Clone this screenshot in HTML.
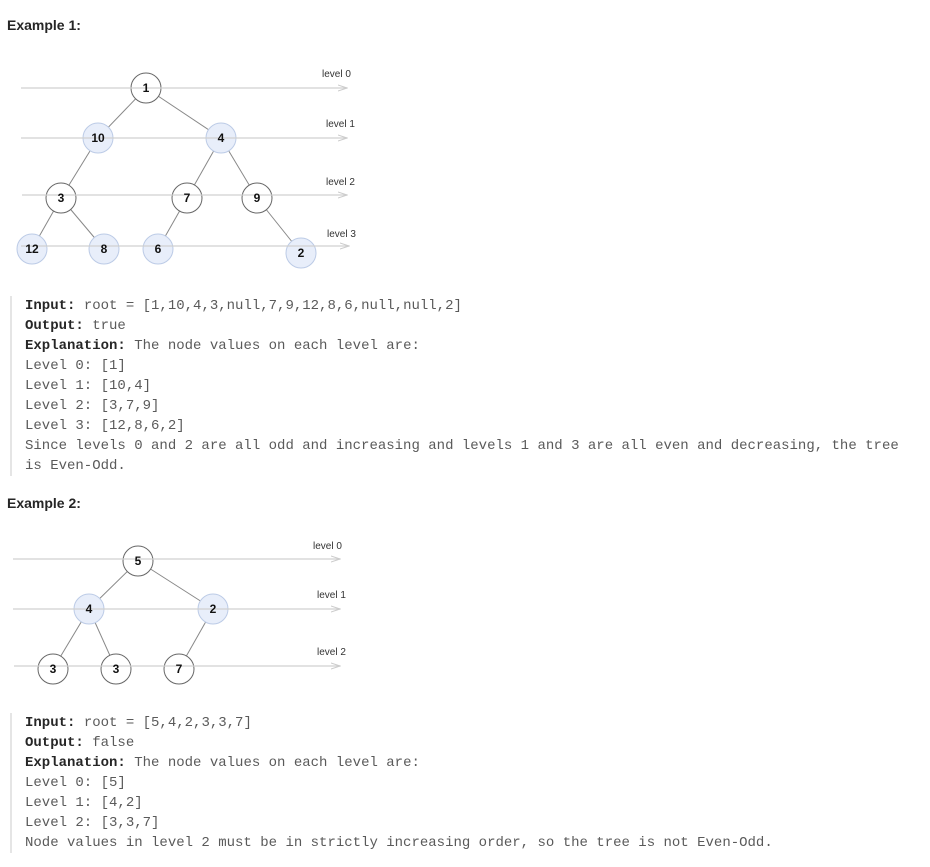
<!DOCTYPE html>
<html><head><meta charset="utf-8"><style>
body{margin:0;width:930px;height:867px;background:#fff;position:relative;font-family:"Liberation Sans",sans-serif;}
.h{position:absolute;left:7px;font-weight:bold;font-size:14px;color:#262626;}
pre{position:absolute;left:10px;margin:0;padding:0 0 0 13px;border-left:2px solid #e5e5e5;font-family:"Liberation Mono",monospace;font-size:14px;line-height:20px;color:#5a5a5a;white-space:pre;}
pre b{color:#262626;font-weight:bold;}
svg{position:absolute;left:0;top:0;}
</style></head><body>
<div class="h" style="top:17px">Example 1:</div>
<svg width="930" height="867" font-family="Liberation Sans, sans-serif">
<defs><marker id="a" markerWidth="10" markerHeight="8" refX="9" refY="4" orient="auto" markerUnits="userSpaceOnUse"><path d="M0,1 L9,4 L0,7" fill="none" stroke="#ccc"/></marker></defs>
<g stroke="#888" stroke-width="1">
<line x1="146" y1="88" x2="98" y2="138"/><line x1="146" y1="88" x2="221" y2="138"/>
<line x1="98" y1="138" x2="61" y2="198"/><line x1="221" y1="138" x2="187" y2="198"/><line x1="221" y1="138" x2="257" y2="198"/>
<line x1="61" y1="198" x2="32" y2="249"/><line x1="61" y1="198" x2="104" y2="249"/><line x1="187" y1="198" x2="158" y2="249"/><line x1="257" y1="198" x2="301" y2="253"/>
<line x1="138" y1="561" x2="89" y2="609"/><line x1="138" y1="561" x2="213" y2="609"/>
<line x1="89" y1="609" x2="53" y2="669"/><line x1="89" y1="609" x2="116" y2="669"/><line x1="213" y1="609" x2="179" y2="669"/>
</g>
<g fill="#fff" stroke="#666">
<circle cx="146" cy="88" r="15"/><circle cx="61" cy="198" r="15"/><circle cx="187" cy="198" r="15"/><circle cx="257" cy="198" r="15"/>
<circle cx="138" cy="561" r="15"/><circle cx="53" cy="669" r="15"/><circle cx="116" cy="669" r="15"/><circle cx="179" cy="669" r="15"/>
</g>
<g fill="#e8eefa" stroke="#bccbe6">
<circle cx="98" cy="138" r="15"/><circle cx="221" cy="138" r="15"/><circle cx="32" cy="249" r="15"/><circle cx="104" cy="249" r="15"/><circle cx="158" cy="249" r="15"/><circle cx="301" cy="253" r="15"/>
<circle cx="89" cy="609" r="15"/><circle cx="213" cy="609" r="15"/>
</g>
<g stroke="#d0d0d0" stroke-width="1.2" marker-end="url(#a)">
<line x1="21" y1="88" x2="347" y2="88"/><line x1="21" y1="138" x2="347" y2="138"/><line x1="22" y1="195" x2="347" y2="195"/><line x1="21" y1="246" x2="349" y2="246"/>
<line x1="13" y1="559" x2="340" y2="559"/><line x1="13" y1="609" x2="340" y2="609"/><line x1="14" y1="666" x2="340" y2="666"/>
</g>
<g font-size="12" font-weight="bold" fill="#111" text-anchor="middle">
<text x="146" y="92">1</text><text x="98" y="142">10</text><text x="221" y="142">4</text>
<text x="61" y="202">3</text><text x="187" y="202">7</text><text x="257" y="202">9</text>
<text x="32" y="253">12</text><text x="104" y="253">8</text><text x="158" y="253">6</text><text x="301" y="257">2</text>
<text x="138" y="565">5</text><text x="89" y="613">4</text><text x="213" y="613">2</text>
<text x="53" y="673">3</text><text x="116" y="673">3</text><text x="179" y="673">7</text>
</g>
<g font-size="10" fill="#333">
<text x="322" y="77">level 0</text><text x="326" y="127">level 1</text><text x="326" y="185">level 2</text><text x="327" y="237">level 3</text>
<text x="313" y="549">level 0</text><text x="317" y="598">level 1</text><text x="317" y="655">level 2</text>
</g>
</svg>
<pre style="top:296px"><b>Input:</b> root = [1,10,4,3,null,7,9,12,8,6,null,null,2]
<b>Output:</b> true
<b>Explanation:</b> The node values on each level are:
Level 0: [1]
Level 1: [10,4]
Level 2: [3,7,9]
Level 3: [12,8,6,2]
Since levels 0 and 2 are all odd and increasing and levels 1 and 3 are all even and decreasing, the tree
is Even-Odd.</pre>
<div class="h" style="top:495px">Example 2:</div>
<pre style="top:713px"><b>Input:</b> root = [5,4,2,3,3,7]
<b>Output:</b> false
<b>Explanation:</b> The node values on each level are:
Level 0: [5]
Level 1: [4,2]
Level 2: [3,3,7]
Node values in level 2 must be in strictly increasing order, so the tree is not Even-Odd.</pre>
</body></html>
